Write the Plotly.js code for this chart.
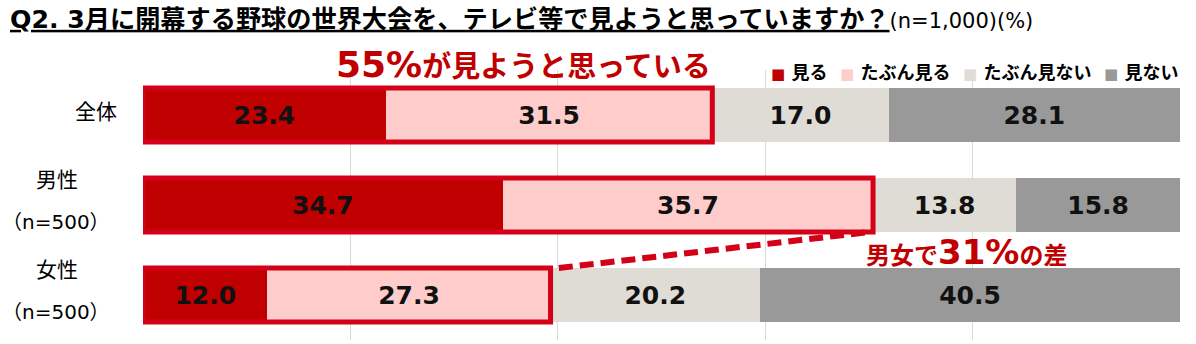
<!DOCTYPE html>
<html>
<head>
<meta charset="utf-8">
<script src="https://cdn.plot.ly/plotly-3.0.1.min.js"></script>
<style>html,body{margin:0;padding:0;background:#fff;}#chart{width:1196px;height:344px;}</style>
</head>
<body>
<div id="chart"></div>
<script>
const categories = ['全体', '男性', '女性'];
const subLabels = ['', '（n=500）', '（n=500）'];
const seriesNames = ['見る', 'たぶん見る', 'たぶん見ない', '見ない'];
const miru = [23.4, 34.7, 12.0];
const tabunMiru = [31.5, 35.7, 27.3];
const tabunMinai = [17.0, 13.8, 20.2];
const minai = [28.1, 15.8, 40.5];
const colors = ['#c00000', '#ffcccc', '#dfdcd5', '#999999'];

const FONT = 'DejaVu Sans, Noto Sans CJK JP, sans-serif';
const RED = '#c00000';
const BOX = '#d40018';

const allSeries = [miru, tabunMiru, tabunMinai, minai];
const traces = allSeries.map((vals, k) => ({
  type: 'bar',
  orientation: 'h',
  name: seriesNames[k],
  y: categories,
  x: vals,
  marker: {color: colors[k], line: {width: 0}},
  text: vals.map(v => v.toFixed(1)),
  texttemplate: '%{text}',
  textposition: 'inside',
  insidetextanchor: 'middle',
  constraintext: 'none',
  textfont: {family: FONT, size: 25, color: '#111111', weight: 'bold'},
  hoverinfo: 'skip'
}));

const shapes = [];
categories.forEach((c, i) => {
  shapes.push({
    type: 'rect', xref: 'x', yref: 'y',
    x0: 0, x1: miru[i] + tabunMiru[i],
    y0: i - 0.3, y1: i + 0.3,
    line: {color: BOX, width: 5},
    fillcolor: 'rgba(0,0,0,0)'
  });
});
shapes.push({
  type: 'line', xref: 'x', yref: 'y',
  x0: miru[2] + tabunMiru[2] + 0.8, y0: 2 - 0.3,
  x1: miru[1] + tabunMiru[1] - 0.3, y1: 1 + 0.3,
  line: {color: BOX, width: 6, dash: '14px,7px'}
});

const annotations = [];
const pxX = p => (p - 143) / 1037;
const pxY = p => 1 - (p - 70) / 270;
annotations.push({
  xref: 'paper', yref: 'y', x: pxX(96), y: 0, yshift: 3,
  text: categories[0], showarrow: false, xanchor: 'center', yanchor: 'middle',
  font: {family: FONT, size: 21, color: '#000'}
});
[1, 2].forEach(i => {
  annotations.push({
    xref: 'paper', yref: 'y', x: pxX(57), y: i, yshift: 25,
    text: categories[i], showarrow: false, xanchor: 'center', yanchor: 'middle',
    font: {family: FONT, size: 21, color: '#000'}
  });
  annotations.push({
    xref: 'paper', yref: 'y', x: pxX(56), y: i, yshift: -17,
    text: subLabels[i], showarrow: false, xanchor: 'center', yanchor: 'middle',
    font: {family: FONT, size: 20, color: '#000'}
  });
});
// legend
const legText = seriesNames.map((n, k) =>
  '<span style="color:' + colors[k] + ';font-size:15px">■</span>\u00a0' + n
).join('\u00a0\u00a0');
annotations.push({
  xref: 'paper', yref: 'paper', x: 1.0, y: pxY(73),
  text: legText, showarrow: false, xanchor: 'right', yanchor: 'middle',
  font: {family: FONT, size: 18, color: '#000', weight: 'bold'}
});
annotations.push({
  xref: 'paper', yref: 'paper', x: pxX(523), y: pxY(65),
  text: '<span style="font-size:36px">55%</span>が見ようと思っている',
  showarrow: false, xanchor: 'center', yanchor: 'middle',
  font: {family: FONT, size: 29, color: RED, weight: 'bold'}
});
annotations.push({
  xref: 'paper', yref: 'paper', x: pxX(966), y: pxY(252),
  text: '男女で<span style="font-size:34px">31%</span>の差',
  showarrow: false, xanchor: 'center', yanchor: 'middle',
  font: {family: FONT, size: 24, color: RED, weight: 'bold'}
});

const layout = {
  width: 1196, height: 344,
  margin: {l: 143, r: 16, t: 70, b: 4, pad: 0},
  paper_bgcolor: '#ffffff', plot_bgcolor: '#ffffff',
  barmode: 'stack', bargap: 0.4,
  showlegend: false,
  hovermode: false,
  title: {
    text: '<b><u>Q2. 3月に開幕する野球の世界大会を、テレビ等で見ようと思っていますか？</u></b><span style="font-size:21px">(n=1,000)(%)</span>',
    xref: 'container', yref: 'container', x: 10 / 1196, xanchor: 'left',
    y: 1 - 19 / 344, yanchor: 'middle',
    font: {family: FONT, size: 25.2, color: '#000'}
  },
  xaxis: {
    range: [0, 100], dtick: 20, tick0: 0, showgrid: true, gridcolor: '#d9d9d9', gridwidth: 1,
    zeroline: false, showticklabels: false, showline: false, fixedrange: true
  },
  yaxis: {
    type: 'category', range: [2.5, -0.5], showgrid: false, zeroline: false,
    showticklabels: false, showline: false, fixedrange: true
  },
  shapes: shapes,
  annotations: annotations
};

Plotly.newPlot('chart', traces, layout, {displayModeBar: false, staticPlot: true});
</script>
</body>
</html>
